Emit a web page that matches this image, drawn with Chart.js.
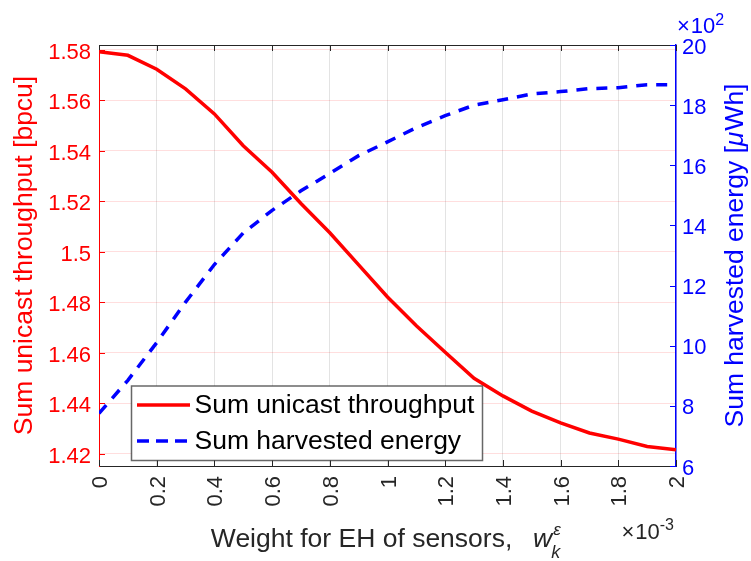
<!DOCTYPE html>
<html>
<head>
<meta charset="utf-8">
<script src="https://cdn.jsdelivr.net/npm/chart.js@4/dist/chart.umd.min.js"></script>
<style>
html,body{margin:0;padding:0;background:#ffffff;}
#wrap{width:751px;height:561px;position:relative;}
</style>
</head>
<body>
<div id="wrap"><canvas id="c" width="751" height="561"></canvas></div>
<script>
// ---- data (x in units of 1e-3) ----
const weights = [0, 0.1, 0.2, 0.3, 0.4, 0.5, 0.6, 0.7, 0.8, 0.9, 1.0, 1.1, 1.2, 1.3, 1.4, 1.5, 1.6, 1.7, 1.8, 1.9, 2.0];
const throughput = [1.5793, 1.5779, 1.5724, 1.5646, 1.5547, 1.5421, 1.5316, 1.5192, 1.5076, 1.4949, 1.4822, 1.4708, 1.4603, 1.4500, 1.4430, 1.4370, 1.4323, 1.4283, 1.4259, 1.4230, 1.4217];
const harvested = [775, 885, 1010, 1145, 1270, 1375, 1450, 1515, 1573, 1632, 1678, 1725, 1765, 1800, 1818, 1837, 1845, 1855, 1858, 1868, 1868];
const seriesNames = ['Sum unicast throughput', 'Sum harvested energy'];

// ---- ticks ----
const xTickValues = [0, 0.2, 0.4, 0.6, 0.8, 1, 1.2, 1.4, 1.6, 1.8, 2];
const xTickLabels = ['0', '0.2', '0.4', '0.6', '0.8', '1', '1.2', '1.4', '1.6', '1.8', '2'];
const leftTickValues = [1.42, 1.44, 1.46, 1.48, 1.5, 1.52, 1.54, 1.56, 1.58];
const leftTickLabels = ['1.42', '1.44', '1.46', '1.48', '1.5', '1.52', '1.54', '1.56', '1.58'];
const rightTickValues = [600, 800, 1000, 1200, 1400, 1600, 1800, 2000];
const rightTickLabels = ['6', '8', '10', '12', '14', '16', '18', '20'];

const FONT = '"Liberation Sans", Arial, Helvetica, sans-serif';
const RED = '#ff0000';
const BLUE = '#0000ff';
const DARK = '#262626';

function setTicks(values) {
  return function (scale) { scale.ticks = values.map(v => ({ value: v })); };
}

function drawSegments(ctx, segs, x, y) {
  let cx = x;
  for (const s of segs) {
    ctx.font = s.font;
    ctx.fillText(s.t, cx, y + (s.dy || 0));
    cx += ctx.measureText(s.t).width + (s.dx || 0);
  }
  return cx;
}
function segWidth(ctx, segs) {
  let w = 0;
  for (const s of segs) { ctx.font = s.font; w += ctx.measureText(s.t).width + (s.dx || 0); }
  return w;
}

const decor = {
  id: 'decor',
  afterDraw(chart) {
    const ctx = chart.ctx;
    const a = chart.chartArea;
    const xs = chart.scales.x, yl = chart.scales.y, yr = chart.scales.y2;
    ctx.save();
    // top border
    ctx.strokeStyle = DARK; ctx.lineWidth = 1;
    ctx.beginPath(); ctx.moveTo(a.left, a.top + 0.5); ctx.lineTo(a.right, a.top + 0.5); ctx.stroke();
    // x ticks (inward, top and bottom)
    ctx.beginPath();
    for (const v of xTickValues) {
      const px = Math.round(xs.getPixelForValue(v)) + 0.5;
      ctx.moveTo(px, a.bottom); ctx.lineTo(px, a.bottom - 6);
      ctx.moveTo(px, a.top); ctx.lineTo(px, a.top + 6);
    }
    ctx.stroke();
    // left ticks
    ctx.strokeStyle = RED; ctx.beginPath();
    for (const v of leftTickValues) {
      const py = Math.round(yl.getPixelForValue(v)) + 0.5;
      ctx.moveTo(a.left, py); ctx.lineTo(a.left + 6, py);
    }
    ctx.stroke();
    // right ticks
    ctx.strokeStyle = BLUE; ctx.beginPath();
    for (const v of rightTickValues) {
      const py = Math.round(yr.getPixelForValue(v)) + 0.5;
      ctx.moveTo(a.right, py); ctx.lineTo(a.right - 6, py);
    }
    ctx.stroke();

    // legend
    const lx = a.left + 32.5, ly = a.top + 341, lw = 351, lh = 74.5;
    ctx.fillStyle = '#ffffff';
    ctx.fillRect(lx, ly, lw, lh);
    ctx.strokeStyle = 'rgba(38,38,38,0.7)'; ctx.lineWidth = 1.5;
    ctx.strokeRect(lx, ly, lw, lh);
    const rows = [ly + 19, ly + 55];
    chart.data.datasets.forEach((ds, i) => {
      const ry = rows[i];
      ctx.strokeStyle = ds.borderColor; ctx.lineWidth = ds.borderWidth;
      ctx.setLineDash(i === 1 ? [12, 7] : []);
      ctx.beginPath(); ctx.moveTo(lx + 5.5, ry); ctx.lineTo(lx + 58.5, ry); ctx.stroke();
      ctx.setLineDash([]);
      ctx.fillStyle = '#000000';
      ctx.font = '26.5px ' + FONT; ctx.textBaseline = 'middle'; ctx.textAlign = 'left';
      ctx.fillText(ds.label, lx + 63, ry + 1);
    });

    // right axis title (reads bottom to top)
    ctx.fillStyle = BLUE; ctx.textBaseline = 'middle'; ctx.textAlign = 'left';
    const rsegs = [
      { t: 'Sum harvested energy [', font: '26.5px ' + FONT },
      { t: 'μ', font: 'italic 26.5px ' + FONT, dx: 1 },
      { t: 'Wh]', font: '26.5px ' + FONT }
    ];
    ctx.save();
    ctx.translate(chart.width - 15, (a.top + a.bottom) / 2);
    ctx.rotate(-Math.PI / 2);
    drawSegments(ctx, rsegs, -segWidth(ctx, rsegs) / 2, 0);
    ctx.restore();

    // x10^2 on right axis
    ctx.textBaseline = 'alphabetic'; ctx.fillStyle = BLUE;
    drawSegments(ctx, [
      { t: '×', font: '22px ' + FONT, dx: 1 },
      { t: '10', font: '22px ' + FONT },
      { t: '2', font: '16px ' + FONT, dy: -8 }
    ], a.right + 1, a.top - 12);

    // x axis title
    ctx.fillStyle = DARK;
    const xsegs = [
      { t: 'Weight for EH of sensors,  ', font: '26.5px ' + FONT, dx: 6 },
      { t: 'w', font: 'italic 26.5px ' + FONT, dx: 0 }
    ];
    const baseW = segWidth(ctx, xsegs) + 14;
    const startX = (a.left + a.right) / 2 - baseW / 2 + 1;
    const base = a.bottom + 81;
    const endX = drawSegments(ctx, xsegs, startX, base);
    ctx.font = 'italic 18px ' + FONT;
    ctx.fillText('k', endX - 1, base + 11);
    ctx.font = 'italic 17px ' + FONT;
    ctx.fillText('ε', endX + 1, base - 12);

    // x10^-3
    ctx.textAlign = 'left';
    ctx.fillStyle = DARK;
    const msegs = [
      { t: '×', font: '22px ' + FONT, dx: 1 },
      { t: '10', font: '22px ' + FONT },
      { t: '-3', font: '16px ' + FONT, dy: -9 }
    ];
    drawSegments(ctx, msegs, a.right - segWidth(ctx, msegs) - 2, a.bottom + 73);
    ctx.restore();
  }
};

new Chart(document.getElementById('c'), {
  type: 'line',
  data: {
    labels: weights,
    datasets: [
      {
        label: seriesNames[0],
        data: weights.map((w, i) => ({ x: w, y: throughput[i] })),
        borderColor: RED, backgroundColor: RED,
        borderWidth: 3.5, pointRadius: 0, tension: 0, yAxisID: 'y', fill: false
      },
      {
        label: seriesNames[1],
        data: weights.map((w, i) => ({ x: w, y: harvested[i] })),
        borderColor: BLUE, backgroundColor: BLUE,
        borderWidth: 3.5, borderDash: [11, 9], pointRadius: 0, tension: 0, yAxisID: 'y2', fill: false
      }
    ]
  },
  options: {
    responsive: false,
    animation: false,
    devicePixelRatio: 1,
    layout: { padding: { top: 45, left: 0, right: 0, bottom: 0 } },
    plugins: { legend: { display: false }, tooltip: { enabled: false }, title: { display: false } },
    scales: {
      x: {
        type: 'linear', position: 'bottom', min: 0, max: 2,
        afterBuildTicks: setTicks(xTickValues),
        afterFit: s => { s.height = 95; },
        ticks: {
          autoSkip: false, maxRotation: 90, minRotation: 90,
          font: { family: FONT, size: 22 }, color: DARK, padding: 10, labelOffset: 2,
          callback: (v, i) => xTickLabels[i]
        },
        grid: { color: '#e3e3e3', lineWidth: 1, drawTicks: false },
        border: { color: DARK, width: 1 }
      },
      y: {
        type: 'linear', position: 'left', min: 1.41524, max: 1.58198,
        afterBuildTicks: setTicks(leftTickValues),
        afterFit: s => { s.width = 99; },
        ticks: {
          font: { family: FONT, size: 22 }, color: RED, padding: 8, labelOffset: 2.5,
          callback: (v, i) => leftTickLabels[i]
        },
        grid: { color: 'rgba(255,0,0,0.13)', lineWidth: 1, drawTicks: false },
        border: { color: RED, width: 1 },
        title: {
          display: true, text: 'Sum unicast throughput [bpcu]', color: RED,
          font: { family: FONT, size: 26.5 }, padding: { top: 9, bottom: 0 }
        }
      },
      y2: {
        type: 'linear', position: 'right', min: 600, max: 2000,
        afterBuildTicks: setTicks(rightTickValues),
        afterFit: s => { s.width = 75; },
        ticks: {
          font: { family: FONT, size: 22 }, color: BLUE, padding: 6, labelOffset: 2.5,
          callback: (v, i) => rightTickLabels[i]
        },
        grid: { drawOnChartArea: false, drawTicks: false },
        border: { color: BLUE, width: 1.5 }
      }
    }
  },
  plugins: [decor]
});
</script>
</body>
</html>
